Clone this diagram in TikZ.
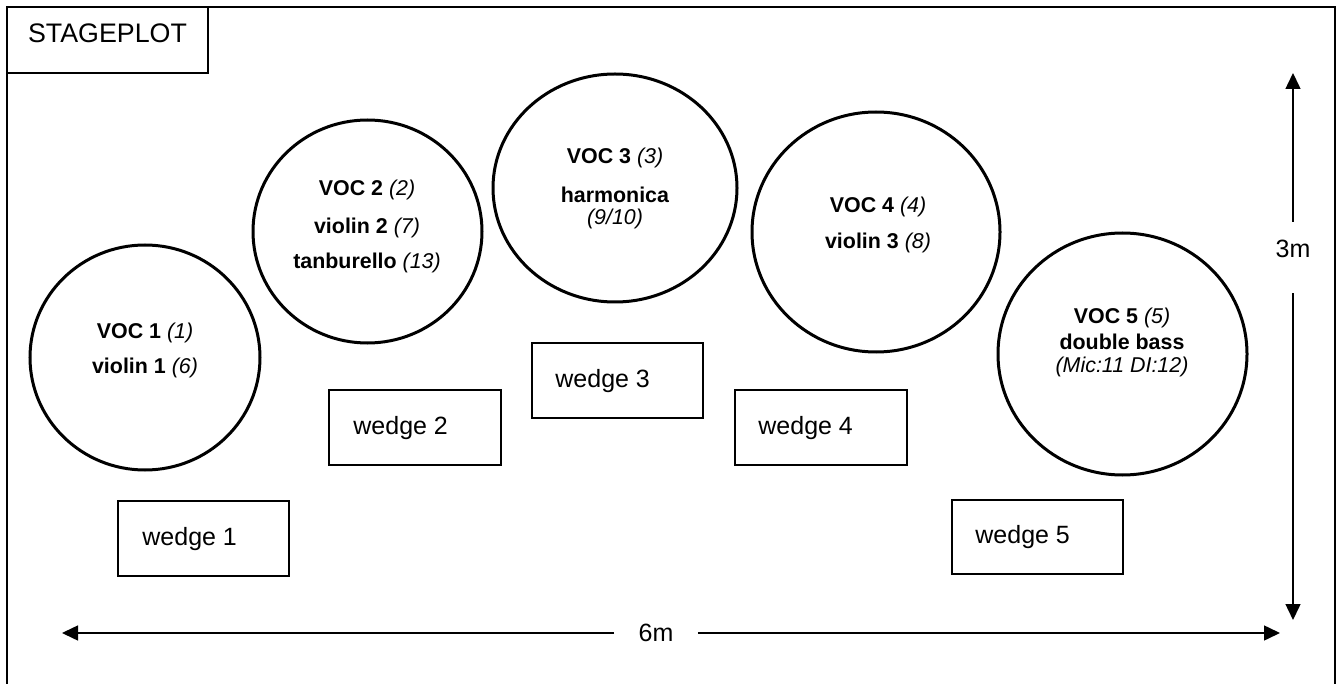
\documentclass[tikz,border=0pt]{standalone}
\usepackage{fontspec}
\setmainfont{Liberation Sans}
\usetikzlibrary{arrows.meta}

\begin{document}
\begin{tikzpicture}[x=0.5pt, y=-0.5pt,
	frameline/.style = {line width=1pt},
	circline/.style = {line width=1.5pt},
	wedgeline/.style = {line width=1pt},
	vocname/.style = {font=\fontsize{10.7}{12}\selectfont, inner sep=0pt},
	wedgename/.style = {font=\fontsize{12.5}{14}\selectfont, anchor=west, inner sep=0pt},
	dimarrow/.style = {line width=0.75pt, -{Triangle[length=8pt, width=7.5pt]}}]
	
	\useasboundingbox (0,0) rectangle (1339,684);
	
	\draw[frameline] (7,7) rectangle (1335,700);
	\draw[frameline] (7,7) rectangle (208,73);
	\node [wedgename, anchor=center, font=\fontsize{13.4}{15}\selectfont] (title) at (107.5, 33) {STAGEPLOT};
	
	\draw[circline] (145,357.5) ellipse (115 and 112.5);
	\node[vocname] (voc1a) at (145, 333) {\textbf{VOC 1} \textit{(1)}};
	\node[vocname] (voc1b) at (145, 368) {\textbf{violin 1} \textit{(6)}};
	
	\draw[circline] (367.5,231.5) ellipse (114.5 and 111.5);
	\node[vocname] (voc2a) at (367, 190) {\textbf{VOC 2} \textit{(2)}};
	\node[vocname] (voc2b) at (367, 228) {\textbf{violin 2} \textit{(7)}};
	\node[vocname] (voc2c) at (367, 263) {\textbf{tanburello} \textit{(13)}};
	
	\draw[circline] (615,188) ellipse (122 and 114);
	\node[vocname] (voc3a) at (615, 158) {\textbf{VOC 3} \textit{(3)}};
	\node[vocname] (voc3b) at (615, 195) {\textbf{harmonica}};
	\node[vocname] (voc3c) at (615, 219) {\textit{(9/10)}};
	
	\draw[circline] (876,232) ellipse (124 and 120);
	\node[vocname] (voc4a) at (878, 207) {\textbf{VOC 4} \textit{(4)}};
	\node[vocname] (voc4b) at (878, 243) {\textbf{violin 3} \textit{(8)}};
	
	\draw[circline] (1122.5,354) ellipse (124.5 and 121);
	\node[vocname] (voc5a) at (1122, 318) {\textbf{VOC 5} \textit{(5)}};
	\node[vocname] (voc5b) at (1122, 342) {\textbf{double bass}};
	\node[vocname] (voc5c) at (1122, 367) {\textit{(Mic:11 DI:12)}};
	
	% wedges
	\draw[wedgeline] (118,501) rectangle (289,576);
	\node[wedgename] (wedge1) at (142, 539) {wedge 1};
	
	\draw[wedgeline] (329,390) rectangle (501,465);
	\node[wedgename] (wedge2) at (353, 428) {wedge 2};
	
	\draw[wedgeline] (532,343) rectangle (703,418);
	\node[wedgename] (wedge3) at (555, 381) {wedge 3};
	
	\draw[wedgeline] (735,390) rectangle (907,465);
	\node[wedgename] (wedge4) at (758, 428) {wedge 4};
	
	\draw[wedgeline] (952,500) rectangle (1123,574);
	\node[wedgename] (wedge5) at (975, 537) {wedge 5};
	
	% dimensions
	\coordinate (wleft) at (62, 633);
	\coordinate (wright) at (1280, 633);
	\node[wedgename, anchor=center, inner xsep=12pt] (sixm) at (656, 633) {6m};
	\draw[dimarrow] (sixm) -- (wleft);
	\draw[dimarrow] (sixm) -- (wright);
	
	\coordinate (dtop) at (1293, 73);
	\coordinate (dbottom) at (1293, 620);
	\node[wedgename, anchor=center] (threem) at (1293, 249) {3m};
	\draw[dimarrow, shorten <=9pt] (threem.north) -- (dtop);
	\draw[dimarrow, shorten <=17.5pt] (threem.south) -- (dbottom);
	
\end{tikzpicture}
\end{document}
